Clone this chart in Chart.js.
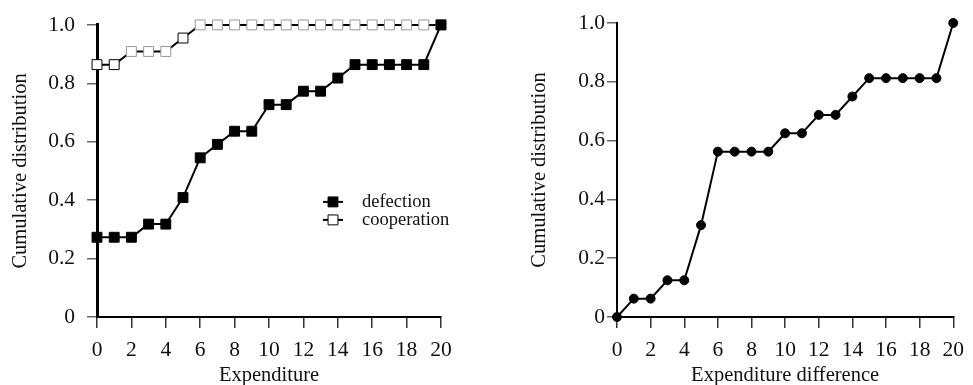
<!DOCTYPE html>
<html>
<head>
<meta charset="utf-8">
<script src="https://cdn.jsdelivr.net/npm/chart.js@4/dist/chart.umd.min.js"></script>
<style>
  html, body { margin: 0; padding: 0; background: #fff; overflow: hidden; width: 973px; height: 385px; }
  .panel { position: absolute; top: 0; }
</style>
</head>
<body>
<div class="panel" style="left:0"><canvas id="leftChart" width="480" height="388"></canvas></div>
<div class="panel" style="left:490px"><canvas id="rightChart" width="483" height="388"></canvas></div>
<script>
// ── DATA ──
const expenditure = [0,1,2,3,4,5,6,7,8,9,10,11,12,13,14,15,16,17,18,19,20];
const defection   = [0.273,0.273,0.273,0.318,0.318,0.409,0.545,0.591,0.636,0.636,0.727,0.727,0.773,0.773,0.818,0.864,0.864,0.864,0.864,0.864,1.0];
const cooperation = [0.864,0.864,0.909,0.909,0.909,0.955,1,1,1,1,1,1,1,1,1,1,1,1,1,1,1];
const difference  = [0,0.0625,0.0625,0.125,0.125,0.3125,0.5625,0.5625,0.5625,0.5625,0.625,0.625,0.6875,0.6875,0.75,0.8125,0.8125,0.8125,0.8125,0.8125,1.0];
const xTicks = [0,2,4,6,8,10,12,14,16,18,20];
const yTicks = [0,0.2,0.4,0.6,0.8,1.0];

const FONT = 'Liberation Serif';
Chart.defaults.font.family = FONT;
Chart.defaults.color = '#111';
Chart.defaults.devicePixelRatio = 1;

const pts = xs => ys => xs.map((x, i) => ({ x, y: ys[i] }));
const onX = pts(expenditure);

// darker outline on a few open squares, grey on the rest
const coopEdge = cooperation.map((_, i) => [0, 1, 5].includes(i) ? '#000' : '#999');

function axes(o) {
    return {
        x: {
            type: 'linear', min: 0, max: 20,
            afterBuildTicks: s => { s.ticks = xTicks.map(v => ({ value: v })); },
            afterFit: s => { s.height = 71; },
            grid: { drawOnChartArea: false, tickLength: 11, color: '#333', lineWidth: 1.5 },
            border: { color: '#000', width: 2 },
            ticks: { font: { size: 21.5 }, padding: 9, color: '#111', maxRotation: 0 },
            title: { display: true, text: o.xTitle, font: { size: 20.5 }, color: '#111', padding: { top: 0, bottom: 0 } }
        },
        y: {
            type: 'linear', min: 0, max: 1,
            afterBuildTicks: s => { s.ticks = yTicks.map(v => ({ value: v })); },
            afterFit: s => { s.width = o.yWidth; },
            grid: { drawOnChartArea: false, tickLength: 10, color: '#666', lineWidth: 1.5 },
            border: { color: '#000', width: o.yBorder },
            ticks: { font: { size: 21.5 }, padding: o.yPad, color: '#111', callback: v => v === 0 ? '0' : v.toFixed(1) },
            title: { display: true, text: 'Cumulative distribution', font: { size: 20.5 }, color: '#111', padding: { top: o.yTitlePad, bottom: 0 } }
        }
    };
}

// legend drawn inside the plot area, lower right
const innerLegend = {
    id: 'innerLegend',
    afterDatasetsDraw(chart) {
        const { ctx, chartArea: a } = chart;
        ctx.save();
        chart.data.datasets.forEach((d, i) => {
            const y = a.top + 177 + i * 18;
            const x0 = a.left + 226;
            ctx.strokeStyle = '#000'; ctx.lineWidth = 2;
            ctx.beginPath(); ctx.moveTo(x0, y); ctx.lineTo(x0 + 20, y); ctx.stroke();
            ctx.fillStyle = d.pointBackgroundColor;
            ctx.strokeStyle = '#000'; ctx.lineWidth = 1;
            Chart.helpers.drawPoint(ctx, { pointStyle: 'rect', radius: 7, borderWidth: 1 }, x0 + 10, y);
            ctx.fillStyle = '#111';
            ctx.font = `18.5px "${FONT}"`;
            ctx.textAlign = 'left'; ctx.textBaseline = 'middle';
            ctx.fillText(d.label, x0 + 39, y);
        });
        ctx.restore();
    }
};

new Chart(document.getElementById('leftChart'), {
    type: 'line',
    data: {
        datasets: [
            { label: 'defection', data: onX(defection), borderColor: '#000', borderWidth: 2, pointStyle: 'rect', pointRadius: 7,
              pointBackgroundColor: '#000', pointBorderColor: '#000', pointBorderWidth: 1, tension: 0, clip: false },
            { label: 'cooperation', data: onX(cooperation), borderColor: '#000', borderWidth: 2, pointStyle: 'rect', pointRadius: 7,
              pointBackgroundColor: '#fff', pointBorderColor: coopEdge, pointBorderWidth: 1, tension: 0, clip: false }
        ]
    },
    options: {
        responsive: false, animation: false,
        layout: { padding: { top: 23, right: 39, left: 0, bottom: 0 } },
        plugins: { legend: { display: false }, tooltip: { enabled: false } },
        scales: axes({ xTitle: 'Expenditure', yWidth: 97, yBorder: 3, yPad: 12, yTitlePad: 8 })
    },
    plugins: [innerLegend]
});

new Chart(document.getElementById('rightChart'), {
    type: 'line',
    data: {
        datasets: [
            { label: 'difference', data: onX(difference), borderColor: '#000', borderWidth: 2, pointStyle: 'circle', pointRadius: 4.5,
              pointBackgroundColor: '#000', pointBorderColor: '#000', pointBorderWidth: 1, tension: 0, clip: false }
        ]
    },
    options: {
        responsive: false, animation: false,
        layout: { padding: { top: 23, right: 12, left: 0, bottom: 0 } },
        plugins: { legend: { display: false }, tooltip: { enabled: false } },
        scales: axes({ xTitle: 'Expenditure difference', yWidth: 127, yBorder: 2, yPad: 2, yTitlePad: 37 })
    }
});
</script>
</body>
</html>
